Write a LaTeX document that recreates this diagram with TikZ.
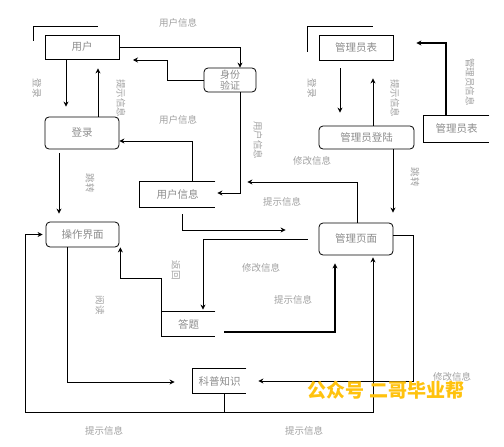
\documentclass[tikz,border=0pt]{standalone}
\usepackage{fontspec}
\setmainfont{Noto Sans CJK SC}
\usetikzlibrary{arrows.meta}
\definecolor{txt}{HTML}{8C8C8C}
\definecolor{lbl}{HTML}{A0A0A0}
\definecolor{wm}{HTML}{FFC20E}
\begin{document}
\begin{tikzpicture}[x=1pt,y=-1pt,
  line width=0.8pt,
  arr/.style={-{Stealth[length=5pt,width=5pt]}},
  box/.style={draw,minimum width=#1,inner sep=0pt,text=txt,font=\fontsize{10.5}{12}\selectfont},
  rbox/.style={box=#1,rounded corners=4pt},
  store/.style={minimum width=#1,inner sep=0pt,text=txt,font=\fontsize{10.5}{12}\selectfont},
  lab/.style={text=lbl,font=\fontsize{9.5}{11}\selectfont,inner sep=0pt},
  vlab/.style={text=lbl,font=\fontsize{9.5}{11}\selectfont,inner sep=0pt,rotate=-90}]
\useasboundingbox (0,0) rectangle (504,447);
% nodes
\node[box=74pt,minimum height=24pt] (user) at (82,47) {用户};
\node[rbox=52pt,minimum height=24pt,align=center,font=\fontsize{10}{11}\selectfont] (auth) at (230,80) {身份\\验证};
\node[rbox=74pt,minimum height=32pt] (login) at (82,133) {登录};
\node[store=75pt,minimum height=25pt] (uinfo) at (177.5,194.5) {用户信息};
\node[rbox=73pt,minimum height=25pt] (ui) at (82.5,234.5) {操作界面};
\node[store=53pt,minimum height=24pt] (quiz) at (188.5,324) {答题};
\node[store=53pt,minimum height=24pt] (sci) at (219.5,381) {科普知识};
\node[box=74pt,minimum height=25pt] (admtab) at (356,47.5) {管理员表};
\node[store=65pt,minimum height=26pt] (admtab2) at (456.5,129) {管理员表};
\node[rbox=95pt,minimum height=23pt] (admlogin) at (366.5,137.5) {管理员登陆};
\node[rbox=74pt,minimum height=32pt] (admpage) at (356,239) {管理页面};
% store outlines
\foreach \s in {uinfo,quiz,sci,admtab2}
  \draw (\s.north east) -- (\s.north west) -- (\s.south west) -- (\s.south east);
% data store brackets
\draw ([xshift=-11pt,yshift=-6pt]user.north west) -- ([xshift=-11pt,yshift=8pt]user.north west) -- ([xshift=53pt,yshift=8pt]user.north west);
\draw ([xshift=-11pt,yshift=-17pt]admtab.north west) -- ([xshift=-11pt,yshift=8pt]admtab.north west) -- ([xshift=54pt,yshift=8pt]admtab.north west);
% connectors
\draw[arr] (user.east) -| ([xshift=10pt]auth.north);
\coordinate (c1) at (133,60);
\draw[arr] (auth.west) -| (167,60) -- (c1);
\draw[arr,shorten >=10pt] ([xshift=-16pt]user.south) -- ([xshift=-16pt]login.north);
\draw[arr,shorten >=9pt] ([xshift=16pt]login.north) -- ([xshift=16pt]user.south);
\draw[arr] ([xshift=14.5pt]uinfo.north) |- ([yshift=-8pt]login.east);
\draw[arr,shorten <=4pt,shorten >=8pt] ([xshift=-23pt]login.south) -- ([xshift=-23.5pt]ui.north);
\draw[arr] ([xshift=10pt]auth.south) |- ([xshift=2pt,yshift=1.5pt]uinfo.east);
\draw[arr,shorten >=32pt] ([xshift=1pt]admpage.north) |- ([yshift=12.5pt]uinfo.east);
\draw[arr,shorten <=7pt,shorten >=33pt] ([xshift=4.5pt]uinfo.south) |- ([yshift=9pt]admpage.west);
\draw[arr,shorten <=11pt,shorten >=2pt] (admpage.west) -| ([xshift=14.5pt]quiz.north);
\draw[arr,line width=1.2pt,shorten <=9pt,shorten >=8pt] ([yshift=-8pt]quiz.east) -| ([xshift=-21pt]admpage.south);
\draw[arr] (quiz.north west) -- ++(0,-33) -| ([xshift=1pt]ui.south east);
\draw[arr,shorten >=18pt] ([xshift=-15.5pt]ui.south) |- ([yshift=-1pt]sci.west);
\draw[arr,shorten >=3pt] ([xshift=4.5pt]sci.south) |- (25,412) |- (ui.west);
\draw[arr,shorten >=2pt] ([xshift=4.5pt,yshift=-19pt]sci.south) -| ([xshift=17pt]admpage.south);
\draw[arr,shorten >=12pt] ([yshift=4pt]admpage.east) -- ++(20,0) |- (sci.east);
\draw[arr,shorten <=8pt,shorten >=13pt] ([xshift=-16pt]admtab.south) -- ([xshift=-26.5pt]admlogin.north);
\draw[arr,shorten >=18pt] ([xshift=6.5pt]admlogin.north) -- ([xshift=17pt]admtab.south);
\draw[arr,line width=1.2pt,shorten >=23pt] ([xshift=-10.5pt]admtab2.north) |- ([yshift=4.5pt]admtab.east);
\draw[arr,shorten >=10pt] ([xshift=26.5pt]admlogin.south) -- ([xshift=37pt]admpage.north);
% labels
\node[lab] (l1) at (178,23) {用户信息};
\node[lab] (l2) at (178,120) {用户信息};
\node[lab] (l3) at (282,202) {提示信息};
\node[lab] (l4) at (312,161) {修改信息};
\node[lab] (l5) at (261,268) {修改信息};
\node[lab] (l6) at (293,300) {提示信息};
\node[lab] (l7) at (104,431) {提示信息};
\node[lab] (l8) at (304,431) {提示信息};
\node[lab] (l9) at (452,377) {修改信息};
\node[vlab] (v1) at (37,88) {登录};
\node[vlab] (v2) at (121,98) {提示信息};
\node[vlab] (v3) at (90,183) {跳转};
\node[vlab] (v4) at (258,140) {用户信息};
\node[vlab] (v5) at (312,88) {登录};
\node[vlab] (v6) at (395,98) {提示信息};
\node[vlab] (v7) at (470,82) {管理员信息};
\node[vlab] (v8) at (415,177) {跳转};
\node[vlab] (v9) at (176,270) {返回};
\node[vlab] (v10) at (100,305) {阅读};
% watermark
\node[text=wm,font=\fontsize{19}{21}\selectfont\bfseries,inner sep=0pt] (wmk) at (386,390) {公众号 二哥毕业帮};
\end{tikzpicture}
\end{document}
